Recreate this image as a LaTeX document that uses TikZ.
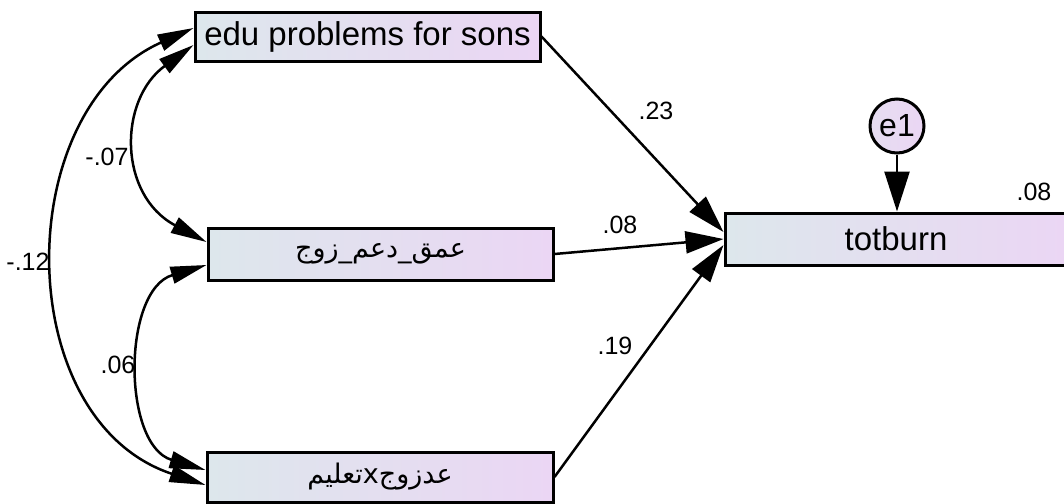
\documentclass[tikz,border=0pt]{standalone}
\usepackage{fontspec}
\setmainfont{Liberation Sans}
\newfontfamily\arabicfont[Script=Arabic]{DejaVu Sans}
\TeXXeTstate=1
\usetikzlibrary{calc,arrows.meta}
\definecolor{boxleft}{RGB}{221,231,236}
\definecolor{boxright}{RGB}{235,214,244}
\newcommand*{\WeightLabels}[1]{% #1 = list of name/x/y/text
\foreach \n/\x/\y/\lbl in {#1} {
\node [draw=none, font=\fontsize{12.5}{14}\selectfont]
(\n) at (\x,\y) {\lbl};
}%
}

\begin{document}
\begin{tikzpicture}[x=0.5pt, y=-0.5pt,
    obs/.style={draw, line width=1.5pt, left color=boxleft, right color=boxright,
        inner sep=0pt, font=\fontsize{16.5}{19}\selectfont},
    err/.style={circle, draw, line width=1.5pt, left color=boxleft!40!boxright, right color=boxright,
        inner sep=0pt, minimum size=27pt, font=\fontsize{16}{18}\selectfont},
    reg/.style={line width=1.25pt, -{Triangle[length=19pt, width=11pt]}},
    cov/.style={line width=1.25pt, {Triangle[length=18pt, width=8.5pt]}-{Triangle[length=18pt, width=8.5pt]}}]

    \useasboundingbox (0,0) rectangle (1064,503);

    \node [obs, minimum width=172.5pt, minimum height=24.5pt] (edu) at (367.5,36.5) {edu problems for sons};
    \node [obs, minimum width=172.5pt, minimum height=26pt] (supp) at (380.5,254)
        {\arabicfont\fontsize{13.5}{15}\selectfont\beginR عمق\_دعم\_زوج\endR};
    \node [obs, minimum width=173pt, minimum height=25pt] (eduxn) at (380,477)
        {\arabicfont\fontsize{13.5}{15}\selectfont\beginR عدزوجxتعليم\endR};
    \node [obs, minimum width=171pt, minimum height=26pt] (tot) at (896,239) {totburn};
    \node [err] (e1) at (897,126) {e1};

    % regression paths
    \draw [reg] (edu.east) -- ($(tot.west)+(0,-7)$);
    \draw [reg] (supp.east) -- (tot.west);
    \draw [reg] (eduxn.east) -- ($(tot.west)+(0,6)$);
    \draw [reg, -{Triangle[length=20pt, width=12.5pt]}] (e1) -- (e1 |- tot.north);

    % covariances
    \draw [cov] ($(edu.west)+(0,8.5)$) .. controls (118,100) and (118,195) .. ($(supp.west)+(0,-12)$);
    \draw [cov] ($(supp.west)+(0,11)$) .. controls (122,290) and (122,445) .. ($(eduxn.west)+(0,-7)$);
    \draw [cov] ($(edu.west)+(0,-8.5)$) .. controls (10,110) and (10,420) .. ($(eduxn.west)+(0,8)$);

    \WeightLabels{c1/107/157/{-.07}, c3/28/262/{-.12}, c2/118/365/{.06},
        w1/656/111/{.23}, w2/620/225/{.08}, w3/615/346/{.19}, r1/1034/192/{.08}}

\end{tikzpicture}
\end{document}
